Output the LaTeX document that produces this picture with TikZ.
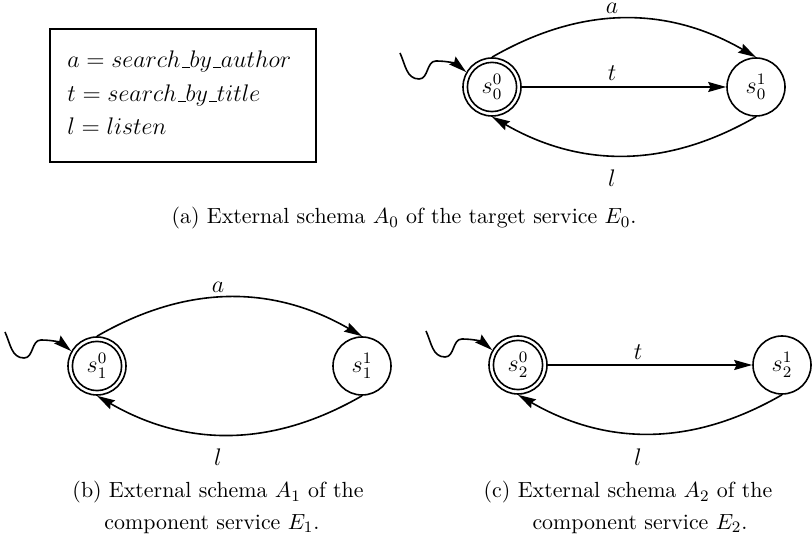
\documentclass[tikz,border=0pt]{standalone}
\usetikzlibrary{arrows.meta,calc}
\newcommand{\usc}{\kern.06em\vbox{\hrule width.3em height .45pt}}
\begin{document}
\begin{tikzpicture}[x=0.5pt,y=0.5pt,
  every node/.style={font=\fontsize{12}{14}\selectfont},
  stt/.style={draw, circle, line width=0.8pt, minimum size=29pt, inner sep=0pt},
  conn/.style={line width=0.8pt, -{Stealth[length=9pt,width=5pt,inset=1.2pt]}},
  lbl/.style={inner sep=0pt},
  legtxt/.style={inner sep=0pt, anchor=base west, font=\fontsize{12.5}{14}\selectfont},
  captxt/.style={font=\fontsize{10.95}{13.6}\selectfont, inner sep=0pt, anchor=base}]
\useasboundingbox (0,0) rectangle (812,545);

% ---------- legend ----------
\node[draw, line width=1pt, minimum width=133pt, minimum height=66.5pt, anchor=north west, inner sep=0pt] (legend) at (49,517) {};
\node[legtxt] (lega) at (67,477) {$a = search\usc by\usc author$};
\node[legtxt] (legt) at (67,443) {$t = search\usc by\usc title$};
\node[legtxt] (legl) at (67,410) {$l = listen$};

% ---------- (a) ----------
\node[stt] (s00) at (492,458) {$s_0^0$};
\draw[line width=0.8pt] (s00.center) circle (12.3pt);
\node[stt] (s01) at (756,458) {$s_0^1$};
\coordinate (i0) at ($(s00)+(-92,34)$);
\draw[conn] (i0) to[out=-65,in=180] ++(19,-26) to[out=0,in=180] ++(17,18) to[out=0,in=140] (s00.150);
\draw[conn] (s00.north) to[out=30,in=150] (s01.north);
\draw[conn] (s00.east) -- (s01.west);
\draw[conn] (s01.south) to[out=-150,in=-30] (s00.south);
\node[lbl] (a0) at (612,537) {$a$};
\node[lbl] (t0) at (612,472) {$t$};
\node[lbl] (l0) at (612,366.5) {$l$};
\node[captxt] (capa) at (404,321) {(a) External schema $A_0$ of the target service $E_0$.};

% ---------- (b) ----------
\node[stt] (s10) at (97,179) {$s_1^0$};
\draw[line width=0.8pt] (s10.center) circle (12.3pt);
\node[stt] (s11) at (362,179) {$s_1^1$};
\coordinate (i1) at ($(s10)+(-92,34)$);
\draw[conn] (i1) to[out=-65,in=180] ++(19,-26) to[out=0,in=180] ++(17,18) to[out=0,in=140] (s10.150);
\draw[conn] (s10.north) to[out=30,in=150] (s11.north);
\draw[conn] (s11.south) to[out=-150,in=-30] (s10.south);
\node[lbl] (a1) at (218,258) {$a$};
\node[lbl] (l1) at (218,87.5) {$l$};
\node[captxt] (capb1) at (218,47) {(b) External schema $A_1$ of the};
\node[captxt] (capb2) at (212,16) {component service $E_1$.};

% ---------- (c) ----------
\node[stt] (s20) at (518,180) {$s_2^0$};
\draw[line width=0.8pt] (s20.center) circle (12.3pt);
\node[stt] (s21) at (782,180) {$s_2^1$};
\coordinate (i2) at ($(s20)+(-92,34)$);
\draw[conn] (i2) to[out=-65,in=180] ++(19,-26) to[out=0,in=180] ++(17,18) to[out=0,in=140] (s20.150);
\draw[conn] (s20.east) -- (s21.west);
\draw[conn] (s21.south) to[out=-150,in=-30] (s20.south);
\node[lbl] (t2) at (638,193) {$t$};
\node[lbl] (l2) at (638,88) {$l$};
\node[captxt] (capc1) at (628,47) {(c) External schema $A_2$ of the};
\node[captxt] (capc2) at (640,16) {component service $E_2$.};
\end{tikzpicture}
\end{document}
